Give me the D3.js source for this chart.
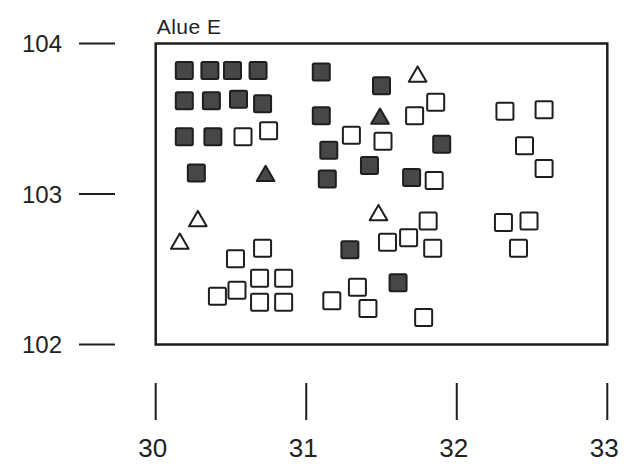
<!DOCTYPE html>
<html>
<head>
<meta charset="utf-8">
<script src="https://cdn.jsdelivr.net/npm/d3@7"></script>
<style>
  body { margin: 0; background: #fff; }
  text { font-family: "Liberation Sans", Arial, sans-serif; fill: #222; }
</style>
</head>
<body>
<svg id="chart" width="628" height="464"></svg>
<script>
const title = "Alue E";
const xTicks = [30, 31, 32, 33];
const yTicks = [102, 103, 104];

// [x, y] pairs
const filledSquares = [
  [30.19, 103.82], [30.36, 103.82], [30.51, 103.82], [30.68, 103.82],
  [30.19, 103.62], [30.37, 103.62], [30.55, 103.63], [30.71, 103.60],
  [30.19, 103.38], [30.38, 103.38], [30.27, 103.14],
  [31.10, 103.81], [31.50, 103.72], [31.10, 103.52], [31.90, 103.33],
  [31.15, 103.29], [31.42, 103.19], [31.14, 103.10], [31.70, 103.11],
  [31.29, 102.63], [31.61, 102.41]
];
const openSquares = [
  [30.58, 103.38], [30.75, 103.42],
  [31.86, 103.61], [31.72, 103.52], [31.30, 103.39], [31.51, 103.35], [31.85, 103.09],
  [30.71, 102.64], [30.53, 102.57], [30.69, 102.44], [30.85, 102.44],
  [30.54, 102.36], [30.41, 102.32], [30.69, 102.28], [30.85, 102.28],
  [31.81, 102.82], [31.68, 102.71], [31.54, 102.68], [31.84, 102.64],
  [31.34, 102.38], [31.17, 102.29], [31.41, 102.24], [31.78, 102.18],
  [32.32, 103.55], [32.58, 103.56], [32.45, 103.32], [32.58, 103.17],
  [32.31, 102.81], [32.48, 102.82], [32.41, 102.64]
];
const filledTriangles = [[30.73, 103.12], [31.49, 103.50]];
const openTriangles = [[31.74, 103.78], [30.28, 102.82], [30.16, 102.67], [31.48, 102.86]];

const svg = d3.select("#chart");
const x = d3.scaleLinear().domain([30, 33]).range([155.7, 607.3]);
const y = d3.scaleLinear().domain([102, 104]).range([344.5, 43.5]);
const ink = "#1e1e1e";
const sq = 17;

// frame
svg.append("rect")
  .attr("x", x(30)).attr("y", y(104))
  .attr("width", x(33) - x(30)).attr("height", y(102) - y(104))
  .attr("fill", "none").attr("stroke", ink).attr("stroke-width", 2.5);

svg.append("text")
  .attr("x", x(30) + 1).attr("y", y(104) - 10)
  .attr("font-size", 21).attr("letter-spacing", 0.5).text(title);

// y axis: detached horizontal ticks
const gy = svg.append("g");
gy.selectAll("line").data(yTicks).enter().append("line")
  .attr("x1", 79).attr("x2", 115)
  .attr("y1", d => y(d)).attr("y2", d => y(d))
  .attr("stroke", ink).attr("stroke-width", 2);
gy.selectAll("text").data(yTicks).enter().append("text")
  .attr("x", 62).attr("y", d => y(d))
  .attr("dy", "0.36em").attr("text-anchor", "end")
  .attr("font-size", 24).text(d => d);

// x axis: detached vertical ticks
const gx = svg.append("g");
gx.selectAll("line").data(xTicks).enter().append("line")
  .attr("x1", d => x(d)).attr("x2", d => x(d))
  .attr("y1", 383).attr("y2", 420)
  .attr("stroke", ink).attr("stroke-width", 2);
gx.selectAll("text").data(xTicks).enter().append("text")
  .attr("x", d => x(d) - 3).attr("y", 457)
  .attr("text-anchor", "middle")
  .attr("font-size", 26).text(d => d);

// squares
const drawSquares = (data, fill) => svg.append("g")
  .selectAll("rect").data(data).enter().append("rect")
  .attr("x", d => x(d[0]) - sq / 2).attr("y", d => y(d[1]) - sq / 2)
  .attr("width", sq).attr("height", sq).attr("rx", 1.5)
  .attr("fill", fill).attr("stroke", ink).attr("stroke-width", 2);

drawSquares(openSquares, "#fff");
drawSquares(filledSquares, "#474747");

// triangles
const tri = d3.symbol().type(d3.symbolTriangle).size(135);
const drawTriangles = (data, fill) => svg.append("g")
  .selectAll("path").data(data).enter().append("path")
  .attr("d", tri)
  .attr("transform", d => `translate(${x(d[0])},${y(d[1])})`)
  .attr("fill", fill).attr("stroke", ink).attr("stroke-width", 2)
  .attr("stroke-linejoin", "round");

drawTriangles(openTriangles, "#fff");
drawTriangles(filledTriangles, "#474747");
</script>
</body>
</html>
